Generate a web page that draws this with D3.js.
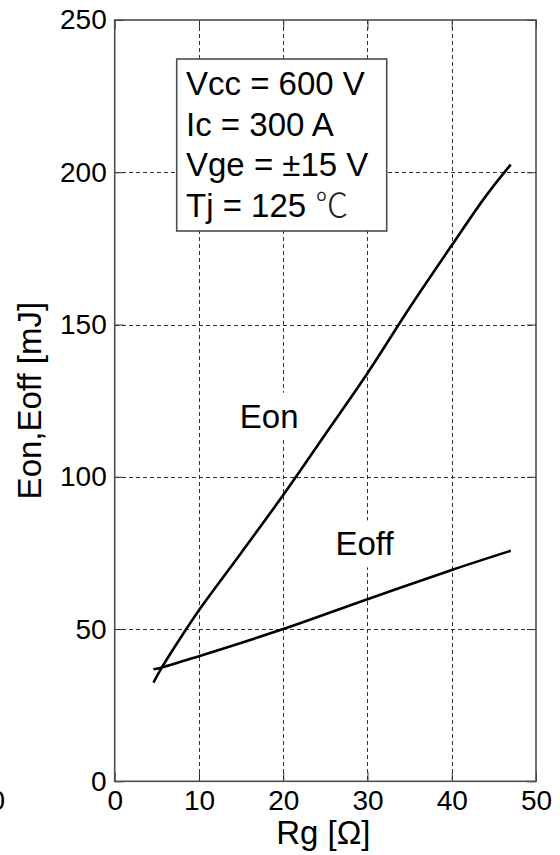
<!DOCTYPE html>
<html>
<head>
<meta charset="utf-8">
<script src="https://cdn.jsdelivr.net/npm/d3@7"></script>
<style>
  html, body { margin: 0; padding: 0; background: #fff; }
  svg { display: block; }
  text { font-family: "Liberation Sans", Arial, sans-serif; fill: #000; }
</style>
</head>
<body>
<svg id="chart" width="560" height="855"></svg>
<script>
// ---- data ----
const xTicks = [0, 10, 20, 30, 40, 50];
const yTicks = [0, 50, 100, 150, 200, 250];
const rgOn  = [4.6, 5.6, 8.5, 10, 15, 20, 25, 30, 35, 40, 44, 47];
const eon   = [32.4, 37.4, 50, 56.2, 75, 94, 114, 134, 155.5, 176, 192, 202.5];
const rgOff = [4.6, 5.6, 10, 20, 30, 40, 47];
const eoff  = [36.8, 37.4, 41.1, 50, 59.8, 69.4, 75.7];
const legendLines = ["Vcc = 600 V", "Ic = 300 A", "Vge = \u00b115 V", "Tj = 125 "];
const xLabel = "Rg [\u03a9]";
const yLabel = "Eon,Eoff [mJ]";

// ---- layout ----
const L = 114.7, R = 536, T = 20, B = 781.3;
const svg = d3.select("#chart");
const x = d3.scaleLinear().domain([0, 50]).range([L, R]);
const y = d3.scaleLinear().domain([0, 250]).range([B, T]);

// grid
const grid = svg.append("g").attr("stroke", "#333").attr("stroke-width", 1)
  .attr("stroke-dasharray", "4,3").attr("shape-rendering", "crispEdges");
grid.selectAll("line.vx").data(xTicks.slice(1, -1)).join("line")
  .attr("x1", d => Math.round(x(d)) + 0.5).attr("x2", d => Math.round(x(d)) + 0.5)
  .attr("y1", T).attr("y2", B);
grid.selectAll("line.hy").data(yTicks.slice(1, -1)).join("line")
  .attr("x1", L).attr("x2", R)
  .attr("y1", d => Math.round(y(d)) + 0.5).attr("y2", d => Math.round(y(d)) + 0.5);

// axes (inward ticks)
const fs = 28;
function styleAxis(g) {
  g.select(".domain").remove();
  g.selectAll(".tick line").attr("stroke", "#333").attr("stroke-width", 1);
  g.selectAll("text").style("font-size", fs + "px").attr("fill", "#000");
}
svg.append("g").attr("transform", `translate(0,${B})`)
  .call(d3.axisBottom(x).tickValues(xTicks).tickSize(-9).tickPadding(9)).call(styleAxis);
svg.append("g").attr("transform", `translate(0,${T})`)
  .call(d3.axisTop(x).tickValues(xTicks).tickSize(-9).tickFormat("")).call(styleAxis);
svg.append("g").attr("transform", `translate(${L},0)`)
  .call(d3.axisLeft(y).tickValues(yTicks).tickSize(-9).tickPadding(8)).call(styleAxis);
svg.append("g").attr("transform", `translate(${R},0)`)
  .call(d3.axisRight(y).tickValues(yTicks).tickSize(-9).tickFormat("")).call(styleAxis);

// frame
svg.append("rect").attr("x", L).attr("y", T).attr("width", R - L).attr("height", B - T)
  .attr("fill", "none").attr("stroke", "#4d4d4d").attr("stroke-width", 1.6);

// curves
const line = d3.line().x(d => x(d[0])).y(d => y(d[1])).curve(d3.curveCatmullRom.alpha(0.5));
svg.append("path").datum(d3.zip(rgOn, eon)).attr("d", line)
  .attr("fill", "none").attr("stroke", "#000").attr("stroke-width", 2.6);
svg.append("path").datum(d3.zip(rgOff, eoff)).attr("d", line)
  .attr("fill", "none").attr("stroke", "#000").attr("stroke-width", 2.6);

// curve labels with white background
function label(txt, xv, yv) {
  const g = svg.append("g");
  const bg = g.append("rect").attr("fill", "#fff");
  const t = g.append("text").attr("x", x(xv)).attr("y", y(yv))
    .style("font-size", "33px").text(txt);
  const bb = t.node().getBBox();
  bg.attr("x", bb.x - 5).attr("y", bb.y - 5).attr("width", bb.width + 10).attr("height", bb.height + 10);
}
label("Eon", 14.85, 116.1);
label("Eoff", 26.2, 74.2);

// legend box
const lg = svg.append("g");
lg.append("rect").attr("x", 176.7).attr("y", 59).attr("width", 210).attr("height", 172)
  .attr("fill", "#fff").attr("stroke", "#4d4d4d").attr("stroke-width", 1.6);
legendLines.forEach((s, i) => {
  const t = lg.append("text").attr("x", 186).attr("y", 95 + i * 40.6)
    .style("font-size", "33px").text(s);
  if (i === 3) {
    t.append("tspan").style("font-family", "'Noto Sans CJK JP'").style("font-weight", 300)
      .attr("fill", "#222").text("\u2103");
  }
});

// axis titles
svg.append("text").attr("x", (L + R) / 2 - 2).attr("y", 844).attr("text-anchor", "middle")
  .style("font-size", "33px").text(xLabel);
svg.append("text").attr("transform", `translate(41,${(T + B) / 2}) rotate(-90)`)
  .attr("text-anchor", "middle").style("font-size", "33px").text(yLabel);

// clipped tick label of the neighbouring chart at the far left
svg.append("text").attr("x", 5).attr("y", 810).attr("text-anchor", "end")
  .style("font-size", fs + "px").text("50");
</script>
</body>
</html>
